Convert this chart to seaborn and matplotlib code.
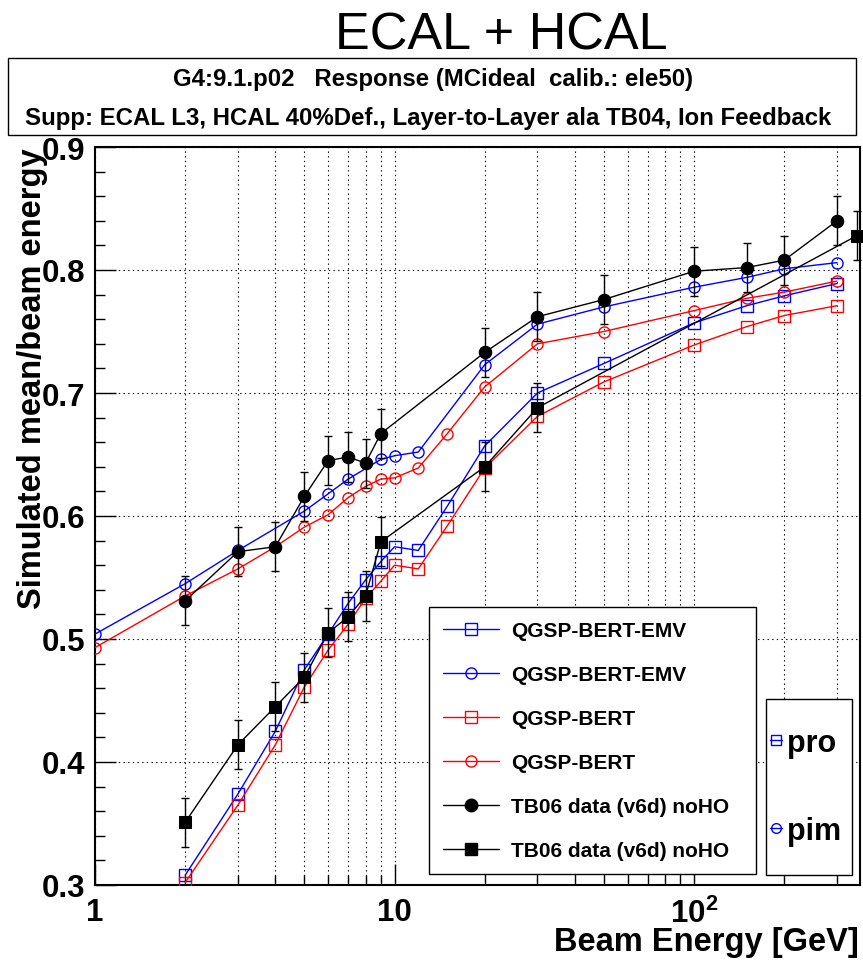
import numpy as np
import pandas as pd
import matplotlib
matplotlib.use("Agg")
import matplotlib.pyplot as plt
import seaborn as sns
from matplotlib.lines import Line2D
from matplotlib.patches import Rectangle
from matplotlib.ticker import FixedLocator, MultipleLocator, FixedFormatter, NullFormatter
from matplotlib.font_manager import FontProperties

# ---------------- data ----------------
e_pro_sim = [2, 3, 4, 5, 6, 7, 8, 9, 10, 12, 15, 20, 30, 50, 100, 150, 200, 300]
pro_emv = [0.308, 0.374, 0.425, 0.475, 0.504, 0.529, 0.548, 0.563, 0.575, 0.572,
           0.608, 0.657, 0.700, 0.724, 0.757, 0.771, 0.779, 0.789]
pro_bert = [0.302, 0.365, 0.414, 0.461, 0.491, 0.512, 0.533, 0.547, 0.560, 0.557,
            0.592, 0.639, 0.681, 0.709, 0.739, 0.754, 0.763, 0.771]

e_pim_emv = [1, 2, 3, 5, 6, 7, 9, 10, 12, 20, 30, 50, 100, 150, 200, 300]
pim_emv = [0.504, 0.545, 0.572, 0.604, 0.618, 0.630, 0.646, 0.649, 0.652,
           0.723, 0.756, 0.770, 0.786, 0.794, 0.801, 0.806]

e_pim_bert = [1, 2, 3, 4, 5, 6, 7, 8, 9, 10, 12, 15, 20, 30, 50, 100, 150, 200, 300]
pim_bert = [0.493, 0.535, 0.557, 0.575, 0.591, 0.601, 0.615, 0.624, 0.630, 0.631,
            0.639, 0.667, 0.705, 0.740, 0.750, 0.767, 0.777, 0.782, 0.791]

e_pim_data = [2, 3, 4, 5, 6, 7, 8, 9, 20, 30, 50, 100, 150, 200, 300]
pim_data = [0.531, 0.571, 0.575, 0.616, 0.645, 0.648, 0.643, 0.667, 0.733,
            0.762, 0.776, 0.799, 0.802, 0.808, 0.840]

e_pro_data = [2, 3, 4, 5, 6, 7, 8, 9, 20, 30, 350]
pro_data = [0.351, 0.414, 0.445, 0.469, 0.505, 0.518, 0.535, 0.579, 0.640, 0.688, 0.828]

data_err = 0.02

legend_labels = ["QGSP-BERT-EMV", "QGSP-BERT-EMV", "QGSP-BERT", "QGSP-BERT",
                 "TB06 data (v6d) noHO", "TB06 data (v6d) noHO"]
particle_labels = ["pro", "pim"]
x_tick_vals = [1, 10, 100]
x_tick_labels = ["1", "10", r"10$^{\mathbf{2}}$"]
y_tick_vals = [0.3, 0.4, 0.5, 0.6, 0.7, 0.8, 0.9]
y_tick_labels = ["0.3", "0.4", "0.5", "0.6", "0.7", "0.8", "0.9"]

# ---------------- style ----------------
sns.set_theme(style="white")
plt.rcParams["font.family"] = ["Liberation Sans", "DejaVu Sans"]
plt.rcParams["mathtext.fontset"] = "custom"
plt.rcParams["mathtext.bf"] = "Liberation Sans:bold"
plt.rcParams["mathtext.rm"] = "Liberation Sans:bold"
plt.rcParams["mathtext.it"] = "Liberation Sans:bold"
plt.rcParams["text.color"] = "black"
plt.rcParams["axes.labelcolor"] = "black"
plt.rcParams["xtick.color"] = "black"
plt.rcParams["ytick.color"] = "black"

W, H = 863, 962
fig = plt.figure(figsize=(W / 100, H / 100), dpi=100)
fig.patch.set_facecolor("white")

ax_l, ax_r, ax_t, ax_b = 95, 860, 148, 886
ax = fig.add_axes([ax_l / W, 1 - ax_b / H, (ax_r - ax_l) / W, (ax_b - ax_t) / H])
ax.set_facecolor("white")

ms_open = 8
lw = 1.0

def sim(e, v, color, marker):
    df = pd.DataFrame({"E": e, "R": v})
    sns.lineplot(data=df, x="E", y="R", ax=ax, color=color, marker=marker,
                 markersize=ms_open, markerfacecolor="none", markeredgecolor=color,
                 markeredgewidth=1.0, linewidth=lw, errorbar=None, zorder=3)

sim(e_pro_sim, pro_emv, "#0000ff", "s")
sim(e_pim_emv, pim_emv, "#0000ff", "o")
sim(e_pro_sim, pro_bert, "#ff0000", "s")
sim(e_pim_bert, pim_bert, "#ff0000", "o")

for e, v, m, ms in [(e_pim_data, pim_data, "o", 9), (e_pro_data, pro_data, "s", 8.5)]:
    df = pd.DataFrame({"E": e, "R": v})
    sns.lineplot(data=df, x="E", y="R", ax=ax, color="black", marker=m,
                 markersize=ms, markerfacecolor="black", markeredgecolor="black",
                 linewidth=lw, errorbar=None, zorder=5, clip_on=False)
    ax.errorbar(e, v, yerr=data_err, fmt="none", ecolor="black", elinewidth=1.0,
                capsize=3, capthick=1.0, zorder=5, clip_on=False)

ax.set_xscale("log")
ax.set_xlim(1, 358)
ax.set_ylim(0.3, 0.9)

ax.xaxis.set_major_locator(FixedLocator(x_tick_vals))
ax.xaxis.set_major_formatter(FixedFormatter(x_tick_labels))
minor_x = [m * d for d in (1, 10, 100) for m in range(2, 10) if m * d < 358]
ax.xaxis.set_minor_locator(FixedLocator(minor_x))
ax.xaxis.set_minor_formatter(NullFormatter())
ax.yaxis.set_major_locator(FixedLocator(y_tick_vals))
ax.yaxis.set_major_formatter(FixedFormatter(y_tick_labels))
ax.yaxis.set_minor_locator(MultipleLocator(0.02))

ax.grid(True, which="both", axis="x", color="black", linestyle=(0, (1.2, 3)), linewidth=0.8)
ax.grid(True, which="major", axis="y", color="black", linestyle=(0, (1.2, 3)), linewidth=0.8)

for s in ax.spines.values():
    s.set_color("black")
    s.set_linewidth(1.5)
    s.set_visible(True)

ax.tick_params(axis="both", which="both", direction="in", color="black",
               top=False, right=False, left=True, bottom=True)
ax.tick_params(axis="both", which="major", length=15, width=1.0, labelsize=22.5,
               pad=7, labelcolor="black")
ax.tick_params(axis="both", which="minor", length=7.5, width=1.0)
ax.tick_params(axis="x", which="major", pad=9)
for lab in ax.get_xticklabels() + ax.get_yticklabels():
    lab.set_fontweight("bold")

ax.set_xlabel("Beam Energy [GeV]", fontsize=23.5, fontweight="bold", loc="right",
              color="black")
ax.xaxis.set_label_coords(0.999, -0.055)
ax.set_ylabel("Simulated mean/beam energy", fontsize=23.5, fontweight="bold", loc="top",
              color="black")
ax.yaxis.set_label_coords(-0.062, 1.0)

# ---------------- legends ----------------
handles = [
    Line2D([], [], color="#0000ff", marker="s", mfc="none", mec="#0000ff", ms=ms_open, lw=lw),
    Line2D([], [], color="#0000ff", marker="o", mfc="none", mec="#0000ff", ms=ms_open, lw=lw),
    Line2D([], [], color="#ff0000", marker="s", mfc="none", mec="#ff0000", ms=ms_open, lw=lw),
    Line2D([], [], color="#ff0000", marker="o", mfc="none", mec="#ff0000", ms=ms_open, lw=lw),
    Line2D([], [], color="black", marker="o", mfc="black", mec="black", ms=9, lw=lw),
    Line2D([], [], color="black", marker="s", mfc="black", mec="black", ms=8.5, lw=lw),
]
leg1 = ax.legend(handles, legend_labels, loc="upper left",
                 bbox_to_anchor=(429 / W, 1 - 876 / H, (756 - 429) / W, (876 - 608) / H),
                 bbox_transform=fig.transFigure, mode="expand", borderaxespad=0,
                 prop=FontProperties(family="Liberation Sans", weight="bold", size=15),
                 frameon=True, fancybox=False, framealpha=1, edgecolor="black",
                 borderpad=0.68, labelspacing=1.2, handlelength=2.7, handletextpad=0.55,
                 labelcolor="black")
leg1.get_frame().set_linewidth(1.0)
leg1.set_zorder(10)
ax.add_artist(leg1)

# box of the particle legend (drawn inside the axes, under the legend text)
box2 = Rectangle((766 / W, 1 - 876 / H), (852 - 766) / W, (876 - 700) / H,
                 transform=fig.transFigure, facecolor="white",
                 edgecolor="black", linewidth=1.0, zorder=9, clip_on=False)
ax.add_patch(box2)
handles2 = [
    Line2D([], [], color="#0000ff", marker="s", mfc="none", mec="#0000ff", ms=7, lw=1.0),
    Line2D([], [], color="#0000ff", marker="o", mfc="none", mec="#0000ff", ms=7, lw=1.0),
]
leg2 = ax.legend(handles2, particle_labels, loc="upper left",
                 bbox_to_anchor=(770 / W, 1 - 729 / H),
                 bbox_transform=fig.transFigure, borderaxespad=0,
                 prop=FontProperties(family="Liberation Sans", weight="bold", size=22),
                 frameon=False, borderpad=0.0, labelspacing=1.9, handlelength=0.4,
                 handletextpad=0.15, labelcolor="black")
leg2.set_zorder(11)

# ---------------- titles ----------------
fig.text(501 / W, 1 - 50 / H, "ECAL + HCAL", fontsize=37.5, ha="center", va="baseline",
         family="Liberation Sans", color="black")
fig.patches.append(Rectangle((8 / W, 1 - 136 / H), (856 - 8) / W, (136 - 59) / H,
                             transform=fig.transFigure, fill=False, edgecolor="black",
                             linewidth=1.0))
fig.text(433 / W, 1 - 86 / H, "G4:9.1.p02   Response (MCideal  calib.: ele50)",
         fontsize=17.3, fontweight="bold", ha="center", va="baseline",
         family="Liberation Sans", color="black")
fig.text(428 / W, 1 - 125 / H,
         "Supp: ECAL L3, HCAL 40%Def., Layer-to-Layer ala TB04, Ion Feedback",
         fontsize=17.3, fontweight="bold", ha="center", va="baseline",
         family="Liberation Sans", color="black")

fig.savefig("out.png", dpi=100, facecolor="white")
